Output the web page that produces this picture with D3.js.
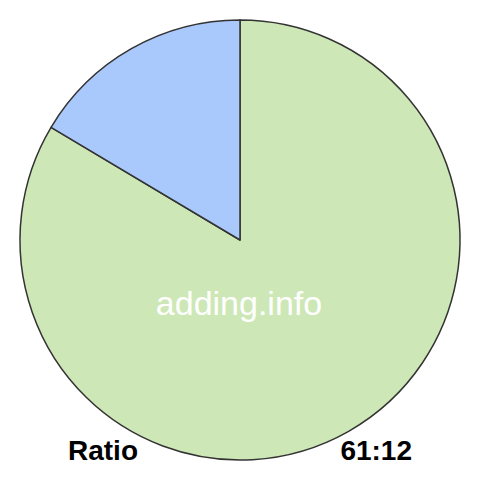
<!DOCTYPE html>
<html>
<head>
<meta charset="utf-8">
<script src="https://cdn.jsdelivr.net/npm/d3@7"></script>
<style>
  body { margin: 0; background: #fff; }
  svg { display: block; }
</style>
</head>
<body>
<svg width="480" height="480"></svg>
<script>
// the two parts of the ratio
let labels = ["61", "12"];
let values = [61, 12];
let colors = ["#cde8b6", "#a9c8fb"];

let svg = d3.select("svg");
let cx = 240, cy = 240, radius = 220;

// green runs clockwise from 12 o'clock, blue fills the rest on the left
let pie = d3.pie()
  .sort(null);

let arc = d3.arc().innerRadius(0).outerRadius(radius);

let plot = svg.append("g")
  .attr("transform", "translate(" + cx + "," + cy + ")");

plot.selectAll("path")
  .data(pie(values))
  .enter().append("path")
  .attr("d", arc)
  .attr("fill", (d, i) => colors[i])
  .attr("stroke", "#333")
  .attr("stroke-width", 1.5)
  .attr("stroke-linejoin", "round");

svg.append("text")
  .attr("x", 239)
  .attr("y", 315)
  .attr("text-anchor", "middle")
  .attr("font-family", "Liberation Sans, Arial, sans-serif")
  .attr("font-size", 34)
  .attr("fill", "#fff")
  .text("adding.info");

svg.append("text")
  .attr("x", 68)
  .attr("y", 460)
  .attr("font-family", "Liberation Sans, Arial, sans-serif")
  .attr("font-weight", "bold")
  .attr("font-size", 28)
  .attr("fill", "#000")
  .text("Ratio");

svg.append("text")
  .attr("x", 412)
  .attr("y", 460)
  .attr("text-anchor", "end")
  .attr("font-family", "Liberation Sans, Arial, sans-serif")
  .attr("font-weight", "bold")
  .attr("font-size", 28)
  .attr("fill", "#000")
  .text(labels.join(":"));
</script>
</body>
</html>
